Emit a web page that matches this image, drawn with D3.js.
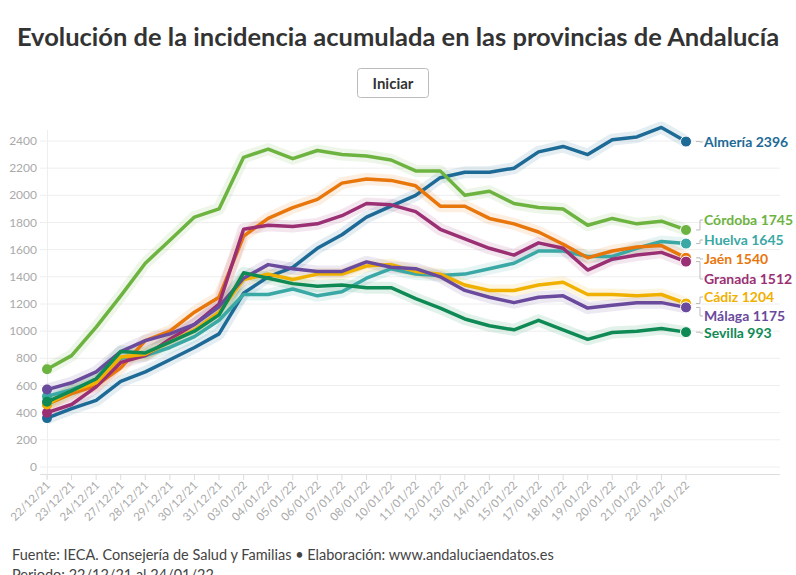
<!DOCTYPE html>
<html><head><meta charset="utf-8">
<script src="https://cdn.jsdelivr.net/npm/d3@7"></script>
<style>body{margin:0;background:#fff;font-family:Lato,sans-serif;overflow:hidden}</style>
</head><body><svg id="c" width="796" height="575"></svg>
<script>
const dates=["22/12/21","23/12/21","24/12/21","27/12/21","28/12/21","29/12/21","30/12/21","31/12/21","03/01/22","04/01/22","05/01/22","06/01/22","07/01/22","08/01/22","10/01/22","11/01/22","12/01/22","13/01/22","14/01/22","15/01/22","17/01/22","18/01/22","19/01/22","20/01/22","21/01/22","22/01/22","24/01/22"];
const yTicks=[0,200,400,600,800,1000,1200,1400,1600,1800,2000,2200,2400];
const names=["Almería","Córdoba","Huelva","Jaén","Granada","Cádiz","Málaga","Sevilla"];
const colors=["#1d6a96","#6db33f","#3aa8a4","#e8760a","#9b2f74","#f0b000","#6a4a9c","#0f8a55"];
const almeria=[360,430,490,630,700,790,880,980,1280,1400,1470,1610,1710,1840,1920,2000,2130,2170,2170,2200,2320,2360,2300,2410,2430,2500,2396];
const cordoba=[720,820,1030,1260,1500,1670,1840,1900,2280,2340,2270,2330,2300,2290,2260,2180,2180,2000,2030,1940,1910,1900,1780,1830,1790,1810,1745];
const huelva=[520,570,640,800,820,880,960,1080,1270,1270,1310,1260,1290,1390,1460,1420,1410,1420,1460,1500,1590,1590,1550,1550,1610,1660,1645];
const jaen=[460,540,600,730,930,1000,1140,1250,1700,1830,1910,1970,2090,2120,2110,2070,1920,1920,1830,1790,1730,1640,1540,1590,1620,1630,1540];
const granada=[400,460,590,770,820,940,1050,1200,1750,1780,1770,1790,1850,1940,1930,1880,1750,1680,1610,1560,1650,1610,1450,1530,1560,1580,1512];
const cadiz=[460,560,620,810,830,920,1010,1140,1380,1420,1380,1420,1420,1480,1490,1440,1420,1340,1300,1300,1340,1360,1270,1270,1260,1270,1204];
const malaga=[570,620,700,850,930,980,1050,1180,1390,1490,1460,1440,1440,1510,1470,1460,1400,1300,1250,1210,1250,1260,1170,1190,1210,1210,1175];
const sevilla=[480,560,650,850,840,920,1000,1120,1430,1390,1350,1330,1340,1320,1320,1240,1170,1090,1040,1010,1080,1010,940,990,1000,1020,993];
const series=[almeria,cordoba,huelva,jaen,granada,cadiz,malaga,sevilla];
const labelY=[142,220,240,259,279,297,316,333];

const svg=d3.select("#c");
svg.append("text").attr("x",398).attr("y",46).attr("text-anchor","middle").attr("font-size",25.5).attr("font-weight",700).attr("fill","#333").text("Evolución de la incidencia acumulada en las provincias de Andalucía");
svg.append("rect").attr("x",357.5).attr("y",68.5).attr("width",71).attr("height",29).attr("rx",3).attr("fill","#fff").attr("stroke","#bbb");
svg.append("text").attr("x",393).attr("y",89).attr("text-anchor","middle").attr("font-size",15).attr("font-weight",700).attr("fill","#333").text("Iniciar");

const x=d3.scalePoint().domain(dates).range([47,686]);
const y=d3.scaleLinear().domain([0,2400]).range([467,141]);
const g=svg.append("g");
yTicks.forEach(t=>{
 g.append("line").attr("x1",40).attr("x2",780).attr("y1",y(t)).attr("y2",y(t)).attr("stroke","#eee");
 g.append("text").attr("x",37).attr("y",y(t)+4).attr("text-anchor","end").attr("font-size",12).attr("fill","#aaa").text(t);
});
g.append("line").attr("x1",40).attr("x2",780).attr("y1",474.5).attr("y2",474.5).attr("stroke","#ddd");
g.append("line").attr("x1",47.5).attr("x2",47.5).attr("y1",130).attr("y2",479).attr("stroke","#eee");
dates.forEach(d=>{
 g.append("line").attr("x1",x(d)).attr("x2",x(d)).attr("y1",474).attr("y2",480).attr("stroke","#ddd");
 g.append("text").attr("transform",`translate(${x(d)+4},${486}) rotate(-45)`).attr("text-anchor","end").attr("font-size",11.5).attr("fill","#aaa").text(d);
});
const line=d3.line().x((v,i)=>x(dates[i])).y(v=>y(v));
series.forEach((s,k)=>{
 g.append("path").attr("d",line(s)).attr("fill","none").attr("stroke",colors[k]).attr("stroke-opacity",0.12).attr("stroke-width",12).attr("stroke-linejoin","round");
});
series.forEach((s,k)=>{
 g.append("path").attr("d",line(s)).attr("fill","none").attr("stroke",colors[k]).attr("stroke-width",3.5).attr("stroke-linejoin","round");
 g.append("circle").attr("cx",x(dates[0])).attr("cy",y(s[0])).attr("r",5).attr("fill",colors[k]);
 const lx=x(dates[26]), ly=y(s[26]);
 g.append("circle").attr("cx",lx).attr("cy",ly).attr("r",5.5).attr("fill",colors[k]).attr("stroke","#fff").attr("stroke-width",1);
 g.append("path").attr("d",`M${lx+10},${ly}L${lx+14},${ly}L${lx+14},${labelY[k]}L${lx+17},${labelY[k]}`).attr("fill","none").attr("stroke","#bbb");
 g.append("text").attr("x",lx+18).attr("y",labelY[k]+5).attr("font-size",14).attr("font-weight",700).attr("fill",colors[k]).text(names[k]+" "+s[26]);
});
svg.append("text").attr("x",12).attr("y",560).attr("font-size",14.5).attr("fill","#444").text("Fuente: IECA. Consejería de Salud y Familias • Elaboración: www.andaluciaendatos.es");
svg.append("text").attr("x",12).attr("y",580).attr("font-size",14.5).attr("fill","#444").text("Periodo: 22/12/21 al 24/01/22");
</script></body></html>
